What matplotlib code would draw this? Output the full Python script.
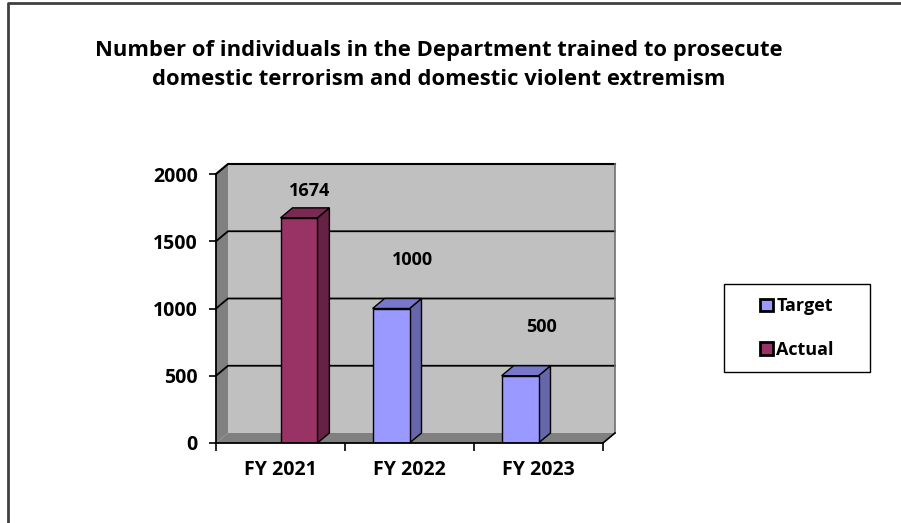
import matplotlib.pyplot as plt
from matplotlib.patches import Polygon, Patch, Rectangle
from matplotlib.lines import Line2D
import numpy as np

plt.rcParams['font.family'] = ['Open Sans', 'DejaVu Sans']

# data
categories = ["FY 2021", "FY 2022", "FY 2023"]
target = [None, 1000, 500]
actual = [1674, None, None]
yticks = [0, 500, 1000, 1500, 2000]
title = ("Number of individuals in the Department trained to prosecute\n"
         "domestic terrorism and domestic violent extremism")

target_cols = ("#9999FF", "#6666AA", "#7777CC")   # face, side, top
actual_cols = ("#993366", "#662244", "#7A2952")

fig = plt.figure(figsize=(9.01, 5.23), dpi=100)
W, H = 901, 523
ax = fig.add_axes([216 / W, (H - 443) / H, (603 - 216) / W, (443 - 174) / H])
ax.set_xlim(-0.5, 2.5)
ax.set_ylim(0, 2000)
ax.patch.set_visible(False)

# depth offset in data units (about 12 px right, 10 px up)
ddx = 12 / (387 / 3)
ddy = 10 / (269 / 2000)
x0, x1, ytop = -0.5, 2.5, 2000

# walls
ax.add_patch(Polygon([(x0 + ddx, ddy), (x1 + ddx, ddy), (x1 + ddx, ytop + ddy), (x0 + ddx, ytop + ddy)],
                     closed=True, facecolor="#C0C0C0", edgecolor="none", clip_on=False, zorder=0))
ax.add_patch(Polygon([(x0, 0), (x0 + ddx, ddy), (x0 + ddx, ytop + ddy), (x0, ytop)],
                     closed=True, facecolor="#808080", edgecolor="none", clip_on=False, zorder=0))
ax.add_patch(Polygon([(x0, 0), (x1, 0), (x1 + ddx, ddy), (x0 + ddx, ddy)],
                     closed=True, facecolor="#808080", edgecolor="none", clip_on=False, zorder=0))
for v in yticks[1:-1]:
    ax.plot([x0, x0 + ddx, x1 + ddx], [v, v + ddy, v + ddy], color="black", lw=1.3, clip_on=False, zorder=1)
ax.plot([x0, x0 + ddx, x1 + ddx], [ytop, ytop + ddy, ytop + ddy], color="black", lw=1.5, clip_on=False, zorder=1)
ax.plot([x1 + ddx, x1 + ddx], [ytop + ddy, ddy], color="#707070", lw=1.2, clip_on=False, zorder=1)
ax.plot([x1, x1 + ddx], [0, ddy], color="black", lw=1.2, clip_on=False, zorder=1)

# bars
bw = 0.286
def draw_bar(xc, val, cols):
    l, r = xc - bw / 2, xc + bw / 2
    ax.add_patch(Polygon([(r, 0), (r + ddx, ddy), (r + ddx, val + ddy), (r, val)],
                         closed=True, facecolor=cols[1], edgecolor="black", lw=1, clip_on=False, zorder=3))
    ax.add_patch(Polygon([(l, val), (r, val), (r + ddx, val + ddy), (l + ddx, val + ddy)],
                         closed=True, facecolor=cols[2], edgecolor="black", lw=1, clip_on=False, zorder=3))
    ax.bar(xc, val, bw, color=cols[0], edgecolor="black", lw=1, zorder=4)

x = np.arange(len(categories))
for i in x:
    if target[i] is not None:
        draw_bar(i - bw / 2, target[i], target_cols)
        ax.text(i - bw / 2 + 0.17, target[i] + 360, str(target[i]), ha="center", va="center",
                fontsize=13, fontweight="bold", zorder=5)
    if actual[i] is not None:
        draw_bar(i + bw / 2, actual[i], actual_cols)
        ax.text(i + bw / 2 + 0.08, actual[i] + 200, str(actual[i]), ha="center", va="center",
                fontsize=13, fontweight="bold", zorder=5)

# axes
for s in ["top", "right"]:
    ax.spines[s].set_visible(False)
for s in ["left", "bottom"]:
    ax.spines[s].set_linewidth(1.3)
    ax.spines[s].set_zorder(6)
ax.set_yticks(yticks)
ax.set_yticklabels([str(v) for v in yticks], fontsize=14, fontweight="bold")
ax.tick_params(axis="y", length=5, width=1.2, pad=8)
ax.set_xticks(x)
ax.set_xticklabels(categories, fontsize=14, fontweight="bold")
ax.set_xticks([-0.5, 0.5, 1.5, 2.5], minor=True)
ax.tick_params(axis="x", which="major", length=0, pad=12)
ax.tick_params(axis="x", which="minor", length=6, width=1.2)

fig.text(439 / W, 1 - 65 / H, title, ha="center", va="center", fontsize=15.8,
         fontweight="bold", linespacing=1.5)

handles = [Patch(facecolor=target_cols[0], edgecolor="black", lw=2),
           Patch(facecolor=actual_cols[0], edgecolor="black", lw=2)]
leg = fig.legend(handles, ["Target", "Actual"], loc="center",
                 bbox_to_anchor=(797 / W, 1 - 328 / H), frameon=False,
                 handlelength=0.7, handleheight=0.7, handletextpad=0.2, labelspacing=1.4,
                 borderpad=0.3, prop={"weight": "bold", "size": 13})
fig.add_artist(Rectangle((724 / W, 1 - 372 / H), (870 - 724) / W, (372 - 284) / H,
                         transform=fig.transFigure, facecolor="none", edgecolor="black", lw=1))

# outer frame (left and top only)
fig.add_artist(Line2D([8 / W, 8 / W, 1], [0, 1 - 3 / H, 1 - 3 / H], color="#404040", lw=2))

fig.savefig("out.png", dpi=100)
